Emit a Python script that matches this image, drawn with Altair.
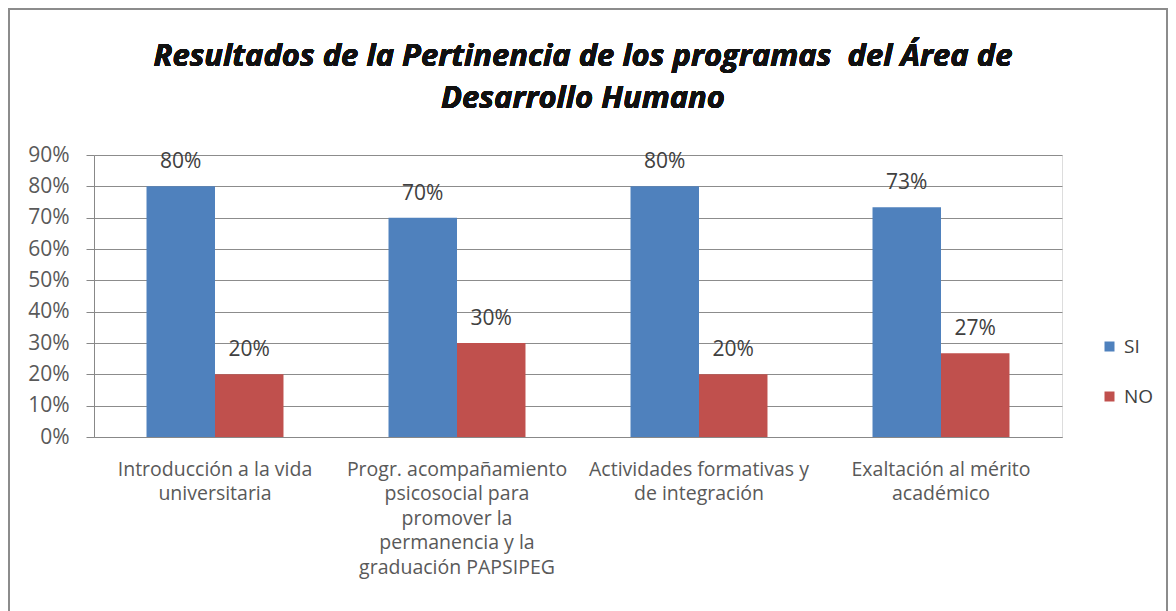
import altair as alt
import pandas as pd

categories = [
    "Introducción a la vida\nuniversitaria",
    "Progr. acompañamiento\npsicosocial para\npromover la\npermanencia y la\ngraduación PAPSIPEG",
    "Actividades formativas y\nde integración",
    "Exaltación al mérito\nacadémico",
]
si_values = [0.80, 0.70, 0.80, 0.733]
no_values = [0.20, 0.30, 0.20, 0.267]
series = ["SI", "NO"]
colors = ["#4F81BD", "#C0504D"]
y_ticks = [0, 0.1, 0.2, 0.3, 0.4, 0.5, 0.6, 0.7, 0.8, 0.9]
title_line1 = "Resultados de la Pertinencia de los programas\u00a0 del Área de"
title_line2 = "Desarrollo Humano"

rows = []
for c, s, n in zip(categories, si_values, no_values):
    rows.append({"cat": c, "serie": "SI", "val": s})
    rows.append({"cat": c, "serie": "NO", "val": n})
df = pd.DataFrame(rows)

W, H = 968, 282
FONT = "Open Sans"
TFONT = "Open Sans"

x = alt.X("cat:N", sort=categories, title=None,
          scale=alt.Scale(paddingInner=0.434, paddingOuter=0.217),
          axis=alt.Axis(labelAngle=0, labelExpr="split(datum.label, '\\n')",
                        labelFontSize=19.5, labelColor="#595959", labelFont=FONT,
                        labelLineHeight=24.5, labelPadding=23, ticks=False,
                        labelLimit=400, domainColor="#888888", labelBaseline="top"))
xo = alt.XOffset("serie:N", sort=series, scale=alt.Scale(paddingInner=0, paddingOuter=0))
y = alt.Y("val:Q", title=None,
          scale=alt.Scale(domain=[0, 0.9], nice=False),
          axis=alt.Axis(values=y_ticks, format=".0%", labelFontSize=21,
                        labelColor="#595959", labelFont=FONT, tickSize=8,
                        tickColor="#888888", domainColor="#888888",
                        gridColor="#8c8c8c", labelPadding=17))
color = alt.Color("serie:N", sort=series, title=None,
                  scale=alt.Scale(domain=series, range=colors),
                  legend=alt.Legend(orient="none", legendX=1006, legendY=182,
                                    symbolType="square", symbolSize=100,
                                    labelFontSize=19, labelColor="#404040",
                                    labelFont=FONT, rowPadding=30, labelOffset=5,
                                    symbolStrokeWidth=0))

bars = alt.Chart(df).mark_bar().encode(x=x, xOffset=xo, y=y, color=color)
labels = alt.Chart(df).mark_text(dy=-14, fontSize=21, color="#404040", font=FONT,
                                 baseline="bottom").encode(
    x=x, xOffset=xo, y=y, text=alt.Text("val:Q", format=".0%"))

tstyle = dict(fontSize=31, font=TFONT, fontStyle="italic", fontWeight="bold",
              color="#111111", baseline="alphabetic", align="center")
title1 = alt.Chart(df).mark_text(**tstyle).encode(
    x=alt.value(489), y=alt.value(-89), text=alt.value(title_line1))
title2 = alt.Chart(df).mark_text(**tstyle).encode(
    x=alt.value(489), y=alt.value(-47), text=alt.value(title_line2))

border = alt.Chart(df).mark_rect(fill=None, stroke="#8c8c8c", strokeWidth=2).encode(
    x=alt.value(-85), x2=alt.value(W + 105), y=alt.value(-146), y2=alt.value(H + 200))

chart = alt.layer(bars, labels, title1, title2, border).properties(
    width=W, height=H,
    autosize=alt.AutoSizeParams(type="none"),
    padding={"left": 86, "top": 147, "right": 106, "bottom": 174},
).configure_view(stroke=None).configure(background="white")

chart.save("out.html", embed_options={"renderer": "svg", "actions": False})
